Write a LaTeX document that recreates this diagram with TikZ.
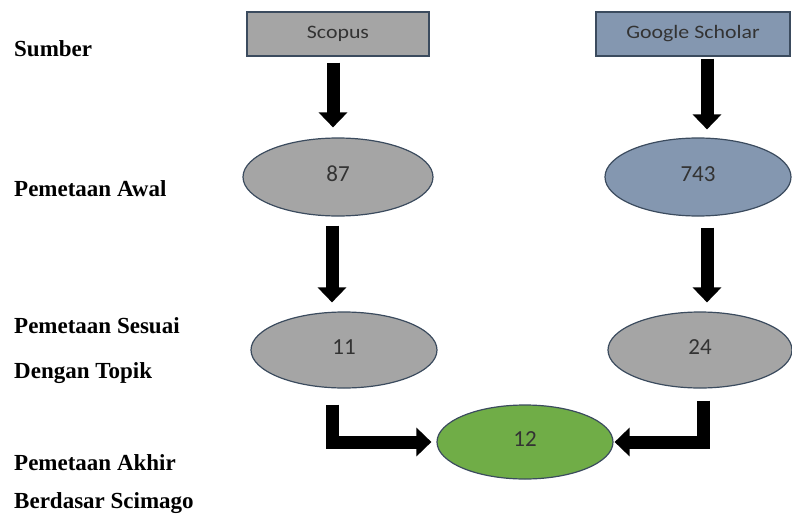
\documentclass[tikz,border=0pt]{standalone}
\usepackage{fontspec}
\setmainfont{Liberation Serif}
\newfontfamily\carlito{Carlito}
\newfontfamily\carlitowide[FakeStretch=1.15]{Carlito}
\usetikzlibrary{shapes.geometric,arrows.meta,calc}
\definecolor{boxgray}{HTML}{A5A5A5}
\definecolor{boxblue}{HTML}{8497B0}
\definecolor{boxgreen}{HTML}{70AD47}
\definecolor{edgecol}{HTML}{3B4B5E}
\tikzset{
  srcbox/.style={draw=edgecol,line width=1.2pt,rectangle,minimum height=44pt,inner sep=0pt,font=\carlitowide\fontsize{19}{22}\selectfont,text=black!80},
  oval/.style={draw=edgecol,line width=1.2pt,ellipse,inner sep=0pt,text depth=6pt,font=\carlito\fontsize{23}{26}\selectfont,text=black!80},
  rowlabel/.style={anchor=base west,inner sep=0pt,font=\bfseries\fontsize{23}{26}\selectfont},
  bigarrow/.style={line width=13pt,line join=miter,black,-{Triangle[width=28pt 0 0,length=15pt 0 0]}}
}
\begin{document}
\begin{tikzpicture}[x=1pt,y=-1pt]
\useasboundingbox (0,0) rectangle (792,522);
% row labels
\node[rowlabel] (l1) at (14,56) {Sumber};
\node[rowlabel] (l2) at (14,196) {Pemetaan Awal};
\node[rowlabel] (l3) at (14,333) {Pemetaan Sesuai};
\node[rowlabel] (l4) at (14,378) {Dengan Topik};
\node[rowlabel] (l5) at (14,470) {Pemetaan Akhir};
\node[rowlabel] (l6) at (14,508) {Berdasar Scimago};
% sources
\node[srcbox,fill=boxgray,minimum width=182pt] (scopus) at (338,34) {Scopus};
\node[srcbox,fill=boxblue,minimum width=194pt] (gs) at (693,34) {Google Scholar};
% ovals
\node[oval,fill=boxgray,minimum width=190pt,minimum height=78pt] (e87) at (338,177) {87};
\node[oval,fill=boxblue,minimum width=186pt,minimum height=78pt] (e743) at (698,177) {743};
\node[oval,fill=boxgray,minimum width=186pt,minimum height=76pt] (e11) at (344,350) {11};
\node[oval,fill=boxgray,minimum width=184pt,minimum height=76pt] (e24) at (700,350) {24};
\node[oval,fill=boxgreen,minimum width=176pt,minimum height=74pt] (e12) at (525,442) {12};
% arrows
\draw[bigarrow] ($(scopus.south)+(-5,6)$) -- ($(e87.north)+(-5,-10)$);
\draw[bigarrow] ($(gs.south)+(14,2)$) -- ($(e743.north)+(9,-8)$);
\draw[bigarrow] ($(e87.south)+(-6,9)$) -- ($(e11.north)+(-12,-9)$);
\draw[bigarrow] ($(e743.south)+(9,11)$) -- ($(e24.north)+(7,-9)$);
\draw[bigarrow,shorten >=5pt] ($(e11.south)+(-12,16)$) |- (e12.west);
\draw[bigarrow,shorten >=1pt] ($(e24.south)+(3,12)$) |- (e12.east);
\end{tikzpicture}
\end{document}
